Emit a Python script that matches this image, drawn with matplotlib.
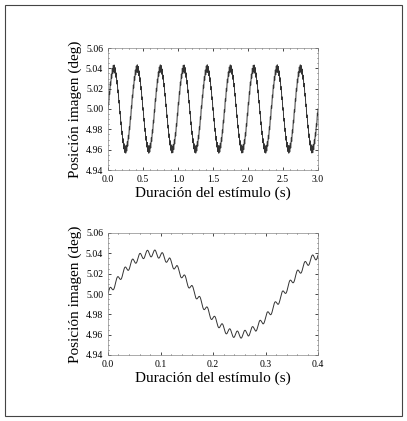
import numpy as np
import matplotlib
matplotlib.use("Agg")
import matplotlib.pyplot as plt
from matplotlib.patches import Rectangle

plt.rcParams['font.family'] = ['Liberation Serif', 'DejaVu Serif']

# signal description
baseline = 5.0
slow_freq_hz = 3.0
slow_amp = 0.040
fast_freq_hz = 70.0
fast_amp = 0.0035
top_xlim = [0.0, 3.0]
bottom_xlim = [0.0, 0.4]
yticks = [4.94, 4.96, 4.98, 5.00, 5.02, 5.04, 5.06]
top_xticks = [0.0, 0.5, 1.0, 1.5, 2.0, 2.5, 3.0]
bottom_xticks = [0.0, 0.1, 0.2, 0.3, 0.4]
xlabel = "Duración del estímulo (s)"
ylabel = "Posición imagen (deg)"

def signal(t):
    return baseline + slow_amp*np.sin(2*np.pi*slow_freq_hz*t) + fast_amp*np.sin(2*np.pi*fast_freq_hz*t)

fig = plt.figure(figsize=(4.07, 4.21), dpi=100)
fig.patches.append(Rectangle((0.012, 0.012), 0.976, 0.976, transform=fig.transFigure,
                             fill=False, edgecolor='#444444', lw=0.8))

ax1 = fig.add_axes([108/407, 1-170/421, 210/407, 122/421])
ax2 = fig.add_axes([108/407, 1-355/421, 210/407, 122/421])

for ax, xl, xt in [(ax1, top_xlim, top_xticks), (ax2, bottom_xlim, bottom_xticks)]:
    t = np.linspace(xl[0], xl[1], 6000)
    ax.plot(t, signal(t), color='#333333', lw=0.7)
    ax.set_xlim(xl)
    ax.set_ylim(4.94, 5.06)
    ax.set_yticks(yticks)
    ax.set_yticklabels([f"{v:.2f}" for v in yticks])
    ax.set_xticks(xt)
    ax.set_xticklabels([f"{v:.1f}" for v in xt])
    ax.tick_params(direction='in', labelsize=7, top=True, right=True, length=2, width=0.5)
    ax.minorticks_on()
    ax.tick_params(which='minor', direction='in', top=True, right=True, length=1, width=0.4)
    for s in ax.spines.values():
        s.set_linewidth(0.5)
        s.set_color('#888888')
    ax.set_xlabel(xlabel, fontsize=11, labelpad=2)
    ax.set_ylabel(ylabel, fontsize=11, labelpad=3)

fig.savefig("out.png", dpi=100)
